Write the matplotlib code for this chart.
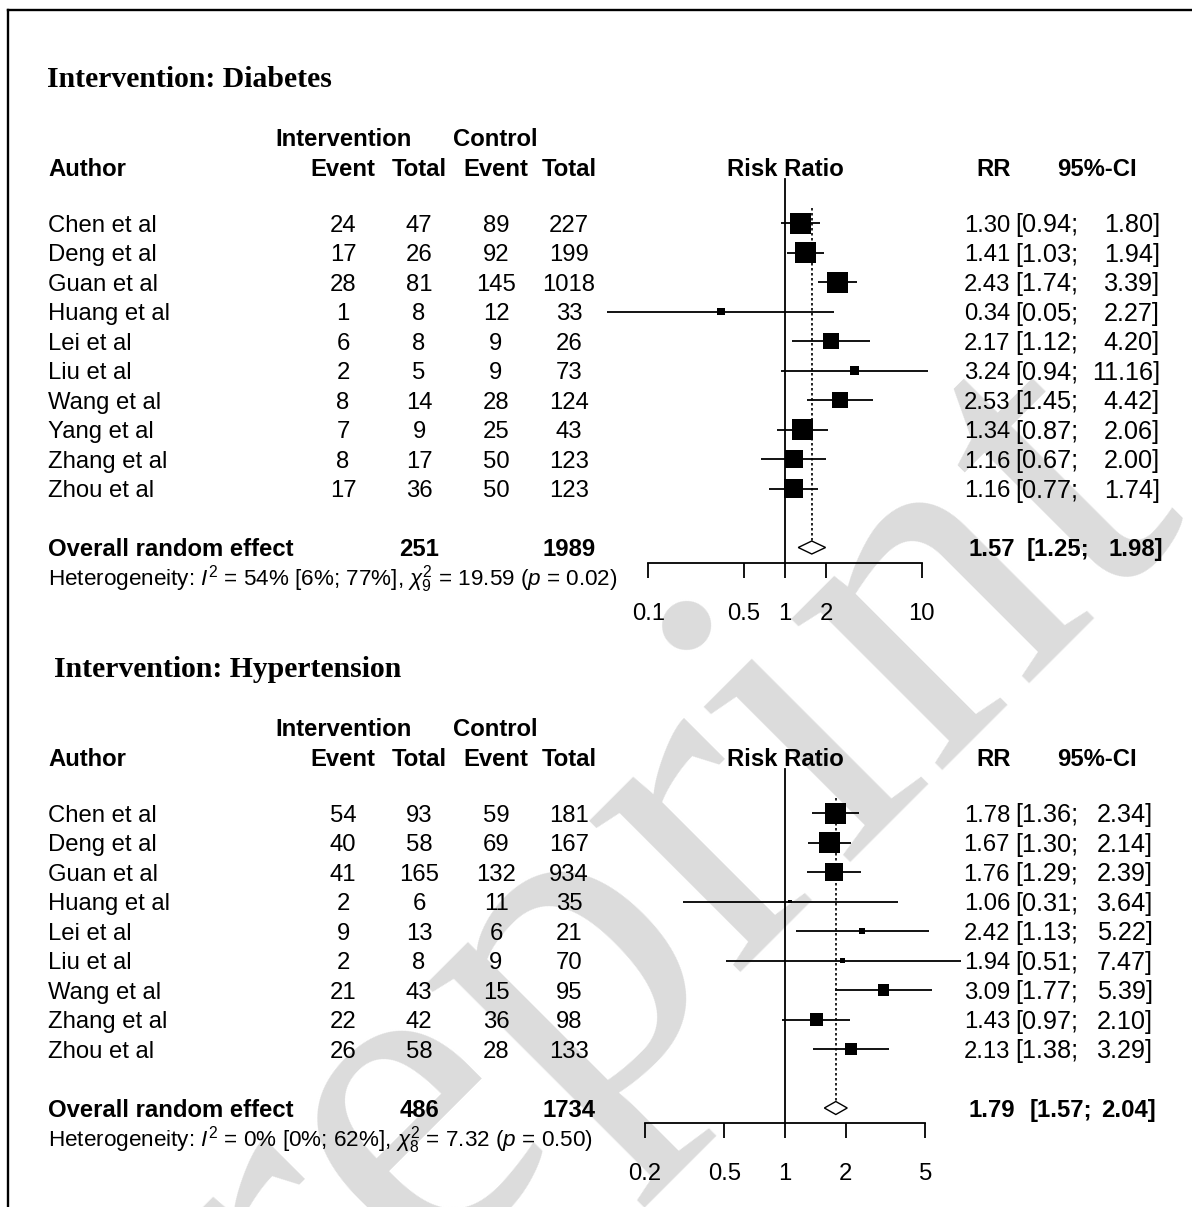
import numpy as np
import matplotlib
matplotlib.use('Agg')
import matplotlib.pyplot as plt
from matplotlib.lines import Line2D

# ---- data: diabetes ----
dm_author = ['Chen et al', 'Deng et al', 'Guan et al', 'Huang et al', 'Lei et al',
             'Liu et al', 'Wang et al', 'Yang et al', 'Zhang et al', 'Zhou et al']
dm_ev_int = [24, 17, 28, 1, 6, 2, 8, 7, 8, 17]
dm_tot_int = [47, 26, 81, 8, 8, 5, 14, 9, 17, 36]
dm_ev_ctl = [89, 92, 145, 12, 9, 9, 28, 25, 50, 50]
dm_tot_ctl = [227, 199, 1018, 33, 26, 73, 124, 43, 123, 123]
dm_rr = [1.30, 1.41, 2.43, 0.34, 2.17, 3.24, 2.53, 1.34, 1.16, 1.16]
dm_lo = [0.94, 1.03, 1.74, 0.05, 1.12, 0.94, 1.45, 0.87, 0.67, 0.77]
dm_hi = [1.80, 1.94, 3.39, 2.27, 4.20, 11.16, 4.42, 2.06, 2.00, 1.74]
dm_weight = [14.2, 14.2, 14.2, 1.7, 9.0, 2.8, 8.3, 13.8, 10.1, 11.6]
dm_overall = [1.57, 1.25, 1.98]
dm_totals = [251, 1989]
dm_het = r'Heterogeneity: $I^2$ = 54% [6%; 77%], $\chi^2_9$ = 19.59 ($p$ = 0.02)'
dm_ticks = [0.1, 0.5, 1, 2, 10]
dm_ticklabels = ['0.1', '0.5', '1', '2', '10']

# ---- data: hypertension ----
ht_author = ['Chen et al', 'Deng et al', 'Guan et al', 'Huang et al', 'Lei et al',
             'Liu et al', 'Wang et al', 'Zhang et al', 'Zhou et al']
ht_ev_int = [54, 40, 41, 2, 9, 2, 21, 22, 26]
ht_tot_int = [93, 58, 165, 6, 13, 8, 43, 42, 58]
ht_ev_ctl = [59, 69, 132, 11, 6, 9, 15, 36, 28]
ht_tot_ctl = [181, 167, 934, 35, 21, 70, 95, 98, 133]
ht_rr = [1.78, 1.67, 1.76, 1.06, 2.42, 1.94, 3.09, 1.43, 2.13]
ht_lo = [1.36, 1.30, 1.29, 0.31, 1.13, 0.51, 1.77, 0.97, 1.38]
ht_hi = [2.34, 2.14, 2.39, 3.64, 5.22, 7.47, 5.39, 2.10, 3.29]
ht_weight = [25.6, 25.6, 18.2, 0.6, 2.6, 1.6, 8.0, 9.8, 8.0]
ht_overall = [1.79, 1.57, 2.04]
ht_totals = [486, 1734]
ht_het = r'Heterogeneity: $I^2$ = 0% [0%; 62%], $\chi^2_8$ = 7.32 ($p$ = 0.50)'
ht_ticks = [0.2, 0.5, 1, 2, 5]
ht_ticklabels = ['0.2', '0.5', '1', '2', '5']

W, H = 1192, 1207
SANS = 'Liberation Sans'
SERIF = 'Liberation Serif'
FS = 17.2
plt.rcParams['mathtext.fontset'] = 'custom'
plt.rcParams['mathtext.rm'] = SANS
plt.rcParams['mathtext.it'] = SANS + ':italic'
plt.rcParams['mathtext.bf'] = SANS + ':bold'

fig = plt.figure(figsize=(W / 100, H / 100), dpi=100)


def put(x, y, s, ha='left', weight='normal', size=FS, family=SANS):
    # y is the vertical centre of capitals, in pixels from the top
    base = y + 0.36 * size * 100 / 72
    fig.text(x / W, 1 - base / H, s, ha=ha, va='baseline', fontsize=size,
             fontweight=weight, family=family, zorder=5)


def panel(title, title_x, base, author, ev_i, tot_i, ev_c, tot_c, rr, lo, hi,
          weight, overall, totals, het, ticks, ticklabels, ppd, ci_r, ov_l, ov_r):
    n = len(author)
    dy = 29.5
    row0 = base + 56
    cols = [343, 419, 496, 569]
    x1 = 785
    put(title_x, base - 91, title, weight='bold', size=21.4, family=SERIF)
    put(344, base - 30, 'Intervention', ha='center', weight='bold')
    put(495, base - 30, 'Control', ha='center', weight='bold')
    put(48, base, 'Author', weight='bold')
    for c, h in zip(cols, ['Event', 'Total', 'Event', 'Total']):
        put(c, base, h, ha='center', weight='bold')
    put(x1, base, 'Risk Ratio', ha='center', weight='bold')
    put(994, base, 'RR', ha='center', weight='bold')
    put(1097, base, '95%-CI', ha='center', weight='bold')

    for i in range(n):
        y = row0 + i * dy
        put(48, y, author[i])
        for c, v in zip(cols, [ev_i[i], tot_i[i], ev_c[i], tot_c[i]]):
            put(c, y, str(v), ha='center')
        put(1010, y, '%.2f' % rr[i], ha='right')
        put(1015, y, '[%.2f;' % lo[i], size=18.2)
        put(ci_r, y, '%.2f]' % hi[i], ha='right', size=18.2)

    yo = row0 + (n + 1) * dy
    put(48, yo, 'Overall random effect', weight='bold')
    put(cols[1], yo, str(totals[0]), ha='center', weight='bold')
    put(cols[3], yo, str(totals[1]), ha='center', weight='bold')
    put(1015, yo, '%.2f' % overall[0], ha='right', weight='bold')
    put(ov_l, yo, '[%.2f;' % overall[1], weight='bold')
    put(ov_r, yo, '%.2f]' % overall[2], ha='right', weight='bold')
    put(48, yo + 30, het, size=16.2)

    # forest part
    left, right = 560, 990
    top, bottom = base + 8, yo + 15
    ax = fig.add_axes([left / W, 1 - bottom / H, (right - left) / W, (bottom - top) / H])
    ax.patch.set_visible(False)
    ax.set_xscale('log')
    ax.set_xlim(10 ** ((left - x1) / ppd), 10 ** ((right - x1) / ppd))
    ax.set_ylim((bottom - row0) / dy, (top - row0) / dy)
    idx = np.arange(n)
    ax.hlines(idx, lo, hi, color='black', lw=1.3, clip_on=False)
    w = np.array(weight)
    side = 21 * np.sqrt(w / w.max()) * 0.72
    ax.scatter(rr, idx, marker='s', s=side ** 2, c='black', linewidths=0,
               zorder=3, clip_on=False)
    ax.plot([1, 1], [(base + 12 - row0) / dy, (bottom - row0) / dy],
            color='black', lw=1.3, clip_on=False)
    hd = 6.5 / dy
    ax.plot([overall[0], overall[0]], [-0.5, n + 1 - hd], color='black',
            lw=1.2, ls=(0, (1.5, 1.5)))
    ax.fill([overall[1], overall[0], overall[2], overall[0]],
            [n + 1, n + 1 - hd, n + 1, n + 1 + hd],
            facecolor='white', edgecolor='black', lw=1.0, zorder=3)
    for s in ['top', 'left', 'right']:
        ax.spines[s].set_visible(False)
    ax.spines['bottom'].set_bounds(ticks[0], ticks[-1])
    ax.spines['bottom'].set_linewidth(1.3)
    ax.set_yticks([])
    ax.set_xticks(ticks)
    ax.set_xticklabels(ticklabels, family=SANS, fontsize=FS)
    ax.xaxis.set_minor_locator(matplotlib.ticker.NullLocator())
    ax.tick_params(axis='x', direction='out', length=11, width=1.3, pad=18)


panel('Intervention: Diabetes', 47, 167, dm_author, dm_ev_int, dm_tot_int,
      dm_ev_ctl, dm_tot_ctl, dm_rr, dm_lo, dm_hi, dm_weight, dm_overall,
      dm_totals, dm_het, dm_ticks, dm_ticklabels, 136.7, 1160, 1027, 1163)
panel('Intervention: Hypertension', 54, 757, ht_author, ht_ev_int, ht_tot_int,
      ht_ev_ctl, ht_tot_ctl, ht_rr, ht_lo, ht_hi, ht_weight, ht_overall,
      ht_totals, ht_het, ht_ticks, ht_ticklabels, 201.0, 1153, 1030, 1156)

# frame and watermark
fig.add_artist(Line2D([8 / W, 1], [1 - 10 / H, 1 - 10 / H], color='black', lw=1.7))
fig.add_artist(Line2D([8 / W, 8 / W], [0, 1 - 10 / H], color='black', lw=1.7))
fig.text(578 / W, 1 - 962 / H, 'Preprint', rotation=45, rotation_mode='anchor',
         ha='center', va='center', fontsize=335, family=SERIF, color='#dcdcdc',
         zorder=-1)

fig.savefig('out.png', dpi=100)
